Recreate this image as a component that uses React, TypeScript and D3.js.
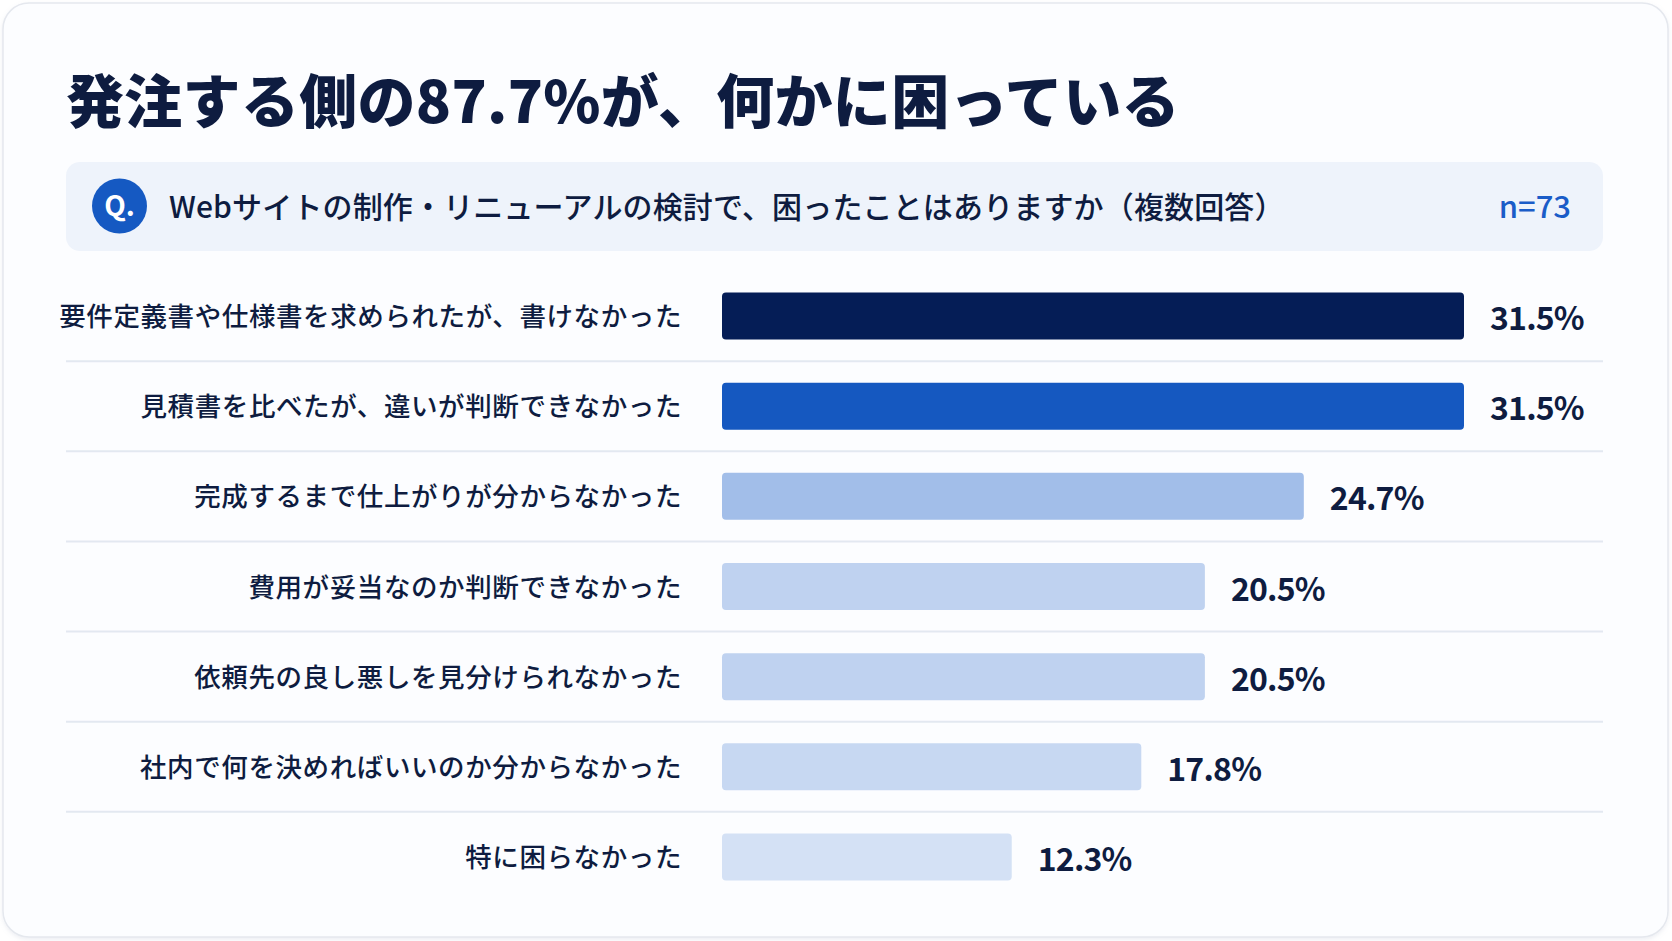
import React from "react";
import * as d3 from "d3";

const TITLE = "発注する側の87.7%が、何かに困っている";
const QUESTION = "Webサイトの制作・リニューアルの検討で、困ったことはありますか（複数回答）";
const SAMPLE = "n=73";

const categories = [
  "要件定義書や仕様書を求められたが、書けなかった",
  "見積書を比べたが、違いが判断できなかった",
  "完成するまで仕上がりが分からなかった",
  "費用が妥当なのか判断できなかった",
  "依頼先の良し悪しを見分けられなかった",
  "社内で何を決めればいいのか分からなかった",
  "特に困らなかった",
];
const values = [31.5, 31.5, 24.7, 20.5, 20.5, 17.8, 12.3];
const barColors = ["#051d56", "#1558c0", "#a2bee9", "#bfd2f0", "#bfd2f0", "#c7d8f2", "#d4e1f5"];

const W = 1672;
const H = 941;
const FONT = "'Noto Sans CJK JP', 'Noto Sans', sans-serif";
const INK = "#0e1c40";

export default function App() {
  const y = d3.scaleBand<string>().domain(categories).range([271, 902]).paddingInner(0).paddingOuter(0);
  const x = d3.scaleLinear().domain([0, 31.5]).range([722, 1464]);
  const barH = 47;
  const band = y.bandwidth();

  return (
    <svg width={W} height={H} style={{ position: "absolute", left: 0, top: 0, display: "block", background: "#ffffff" }}>
      <defs>
        <filter id="cardShadow" x="-5%" y="-5%" width="110%" height="110%">
          <feDropShadow dx="0" dy="2" stdDeviation="2" floodColor="#9aa6bf" floodOpacity="0.18" />
        </filter>
      </defs>
      <rect x={3} y={3} width={1665} height={934} rx={26} fill="#fcfdff" stroke="#e5e8ee" strokeWidth={1.5} filter="url(#cardShadow)" />

      <text x={66} y={123} fontFamily={FONT} fontWeight={800} fontSize={58} letterSpacing={0.3} fill={INK}>{TITLE}</text>

      <rect x={66} y={162} width={1537} height={89} rx={14} fill="#eef3fb" />
      <circle cx={119.5} cy={206} r={27.5} fill="#1559c2" />
      <text x={119.5} y={216} textAnchor="middle" fontFamily={FONT} fontWeight={700} fontSize={28} fill="#ffffff">Q.</text>
      <text x={169} y={218} fontFamily={FONT} fontWeight={500} fontSize={30} letterSpacing={0.15} fill={INK}>{QUESTION}</text>
      <text x={1571} y={218} textAnchor="end" fontFamily={FONT} fontWeight={500} fontSize={31} fill="#1a5cc8">{SAMPLE}</text>

      {categories.slice(1).map((c) => (
        <line key={"sep" + c} x1={66} x2={1603} y1={y(c)!} y2={y(c)!} stroke="#e3e8f1" strokeWidth={2} />
      ))}

      {categories.map((c, i) => {
        const cy = y(c)! + band / 2;
        return (
          <g key={c}>
            <text x={682} y={cy + 10} textAnchor="end" fontFamily={FONT} fontWeight={500} fontSize={26.5} letterSpacing={0.6} fill={INK}>{c}</text>
            <rect x={x(0)} y={cy - barH / 2} width={x(values[i]) - x(0)} height={barH} rx={4} fill={barColors[i]} />
            <text x={x(values[i]) + 26} y={cy + 14} fontFamily={FONT} fontWeight={700} fontSize={32} letterSpacing={-0.8} fill={INK}>{values[i].toFixed(1)}%</text>
          </g>
        );
      })}
    </svg>
  );
}
